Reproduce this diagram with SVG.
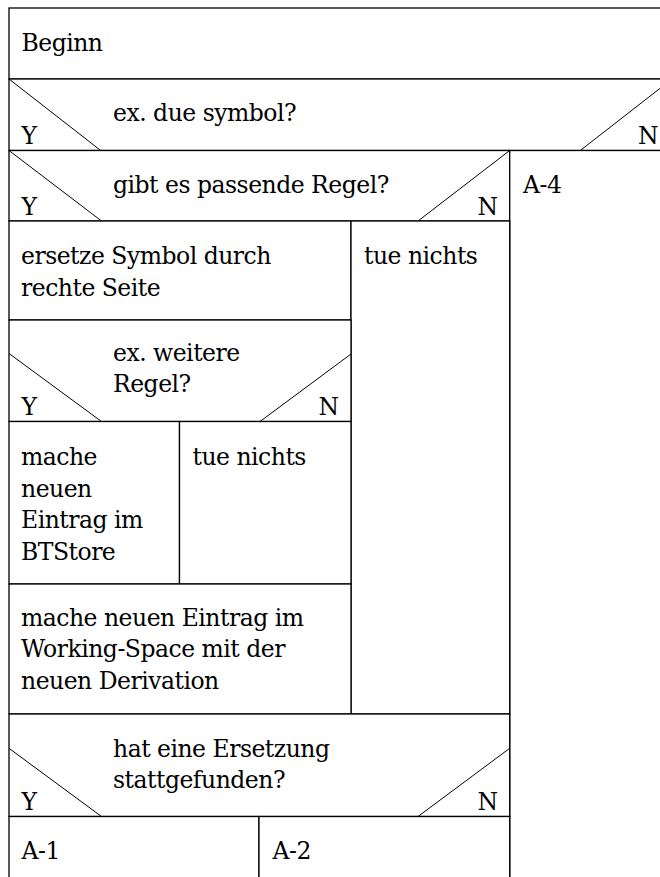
<svg xmlns="http://www.w3.org/2000/svg" width="660" height="877" viewBox="0 0 660 877">
  <style>
    .box { fill: #ffffff; stroke: #000000; stroke-width: 1.3; }
    .diag { fill: none; stroke: #000000; stroke-width: 1; }
    text { font-family: 'DejaVu Serif', serif; font-size: 23.5px; letter-spacing: -0.5px; fill: #000000; }
    .end { text-anchor: end; }
  </style>
  <rect x="0" y="0" width="660" height="877" fill="#ffffff"/>

  <!-- Nassi-Shneiderman structogram: blocks drawn top to bottom -->
  <g id="begin">
    <rect class="box" x="9" y="8" width="663" height="71"/>
    <text x="21.5" y="50.7">Beginn</text>
  </g>

  <g id="cond-due-symbol">
    <rect class="box" x="9" y="79" width="663" height="71.5"/>
    <line class="diag" x1="9" y1="79" x2="100.7" y2="150.5"/>
    <line class="diag" x1="580.3" y1="150.5" x2="672" y2="79"/>
    <text x="113" y="121">ex. due symbol?</text>
    <text x="21.5" y="143.5">Y</text>
    <text class="end" x="658" y="143.5">N</text>
  </g>

  <g id="cond-passende-regel">
    <rect class="box" x="9" y="150.5" width="500.7" height="70.5"/>
    <line class="diag" x1="9" y1="150.5" x2="101.5" y2="221"/>
    <line class="diag" x1="418" y1="221" x2="509.7" y2="150.5"/>
    <text x="113" y="192.5">gibt es passende Regel?</text>
    <text x="21.5" y="214.5">Y</text>
    <text class="end" x="497.5" y="214.5">N</text>
  </g>

  <g id="a4">
    <rect class="box" x="509.7" y="150.5" width="162.3" height="740"/>
    <text x="523" y="192.5">A-4</text>
  </g>

  <g id="ersetze-symbol">
    <rect class="box" x="9" y="221" width="342" height="99"/>
    <text x="21" y="264">ersetze Symbol durch</text>
    <text x="21" y="296">rechte Seite</text>
  </g>

  <g id="tue-nichts-outer">
    <rect class="box" x="351" y="221" width="158.7" height="493"/>
    <text x="364" y="264">tue nichts</text>
  </g>

  <g id="cond-weitere-regel">
    <rect class="box" x="9" y="320" width="342" height="101.5"/>
    <line class="diag" x1="9" y1="353.5" x2="101.5" y2="421.5"/>
    <line class="diag" x1="260" y1="421.5" x2="351" y2="354"/>
    <text x="113" y="360.7">ex. weitere</text>
    <text x="113" y="392.3">Regel?</text>
    <text x="21.5" y="415">Y</text>
    <text class="end" x="338.5" y="415">N</text>
  </g>

  <g id="eintrag-btstore">
    <rect class="box" x="9" y="421.5" width="170.5" height="162.5"/>
    <text x="21" y="465">mache</text>
    <text x="21" y="496.6">neuen</text>
    <text x="21" y="528.2">Eintrag im</text>
    <text x="21" y="559.8">BTStore</text>
  </g>

  <g id="tue-nichts-inner">
    <rect class="box" x="179.5" y="421.5" width="171.5" height="162.5"/>
    <text x="192.5" y="465">tue nichts</text>
  </g>

  <g id="eintrag-working-space">
    <rect class="box" x="9" y="584" width="342" height="130"/>
    <text x="21" y="625.5">mache neuen Eintrag im</text>
    <text x="21" y="657.1">Working-Space mit der</text>
    <text x="21" y="688.7">neuen Derivation</text>
  </g>

  <g id="cond-ersetzung">
    <rect class="box" x="9" y="714" width="500.7" height="102.5"/>
    <line class="diag" x1="9" y1="748.3" x2="101.5" y2="816.5"/>
    <line class="diag" x1="418" y1="816.5" x2="509.7" y2="748.3"/>
    <text x="113" y="756.7">hat eine Ersetzung</text>
    <text x="113" y="788.3">stattgefunden?</text>
    <text x="21.5" y="810">Y</text>
    <text class="end" x="497.5" y="810">N</text>
  </g>

  <g id="a1">
    <rect class="box" x="9" y="816.5" width="250" height="80"/>
    <text x="21.5" y="859.3">A-1</text>
  </g>

  <g id="a2">
    <rect class="box" x="259" y="816.5" width="250.7" height="80"/>
    <text x="272.5" y="859.3">A-2</text>
  </g>

  <g id="connectors"/>
</svg>
